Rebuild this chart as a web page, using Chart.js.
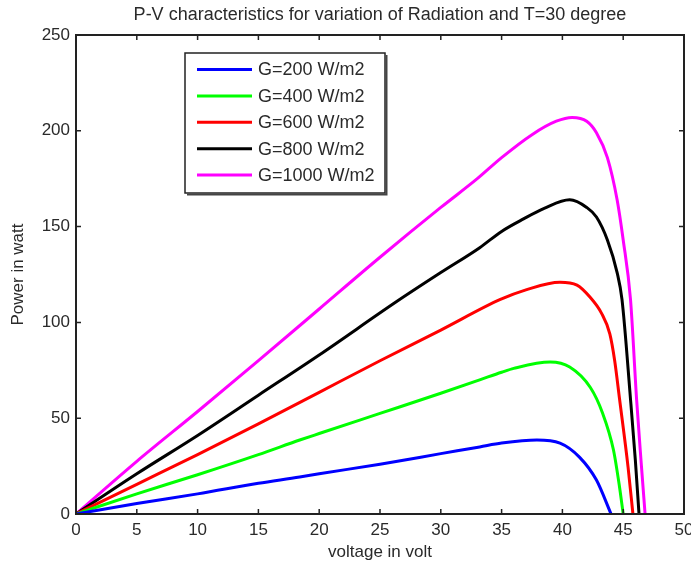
<!DOCTYPE html>
<html>
<head>
<meta charset="utf-8">
<title>P-V characteristics</title>
<script src="https://cdn.jsdelivr.net/npm/chart.js@4/dist/chart.umd.min.js"></script>
<style>
  html, body { margin: 0; padding: 0; background: #ffffff; }
  #wrap { width: 691px; height: 567px; }
</style>
</head>
<body>
<div id="wrap"><canvas id="pv" width="691" height="567"></canvas></div>
<script>
// Panel voltage (V) and output power (W) for each irradiance level, T = 30 degree
const seriesLabels = ['G=200 W/m2', 'G=400 W/m2', 'G=600 W/m2', 'G=800 W/m2', 'G=1000 W/m2'];
const seriesColors = ['#0000ff', '#00ff00', '#ff0000', '#000000', '#ff00ff'];

const voltsG200  = [0, 5, 10, 15, 18.4, 20, 25, 30, 33.2, 35, 37.9, 39.8, 41.4, 42.8, 44.0];
const powerG200  = [0, 5.5, 10.5, 16, 19.3, 21, 26, 31.5, 35, 37, 38.6, 37, 29.7, 17.7, 0];

const voltsG400  = [0, 5, 10, 15, 18.4, 20, 25, 30, 33.2, 35, 36, 39, 40.6, 42.3, 43.3, 44.2, 44.7, 45.0];
const powerG400  = [0, 10.5, 20.5, 31, 38.6, 42, 52.5, 63, 70, 74, 76, 79.3, 76.7, 66, 52.7, 33.4, 14, 0];

const voltsG600  = [0, 5, 10, 15, 20, 25, 30, 34.9, 37, 39.8, 41.2, 42.3, 43.2, 43.9, 44.3, 44.7, 45.4, 45.8];
const powerG600  = [0, 15.5, 31, 47, 63.5, 80, 96, 112, 117, 121, 119.5, 113, 105, 94, 80, 60, 24.5, 0];

const voltsG800  = [0, 5, 10, 15, 20, 26.4, 30, 33.2, 35, 36.8, 38.5, 40.6, 42, 42.8, 43.7, 44.5, 44.9, 45.6, 46.0, 46.3];
const powerG800  = [0, 21, 41, 62, 83, 111, 126, 139, 147.5, 154, 159.5, 164, 160, 155, 143, 126, 112, 60, 28, 0];

const voltsG1000 = [0, 5, 10, 15, 20, 25, 30, 33, 35, 37.5, 39.5, 40.8, 42, 42.8, 43.7, 44.5, 45, 45.6, 46.1, 46.5, 46.8];
const powerG1000 = [0, 27.5, 53.5, 80, 107, 134, 160, 175, 186, 198, 205, 207, 205, 199, 186, 164, 143, 112, 60, 25, 0];

const voltTicks  = [0, 5, 10, 15, 20, 25, 30, 35, 40, 45, 50];
const powerTicks = [0, 50, 100, 150, 200, 250];

const chartTitle = 'P-V characteristics for variation of Radiation and T=30 degree';
const xTitle = 'voltage in volt';
const yTitle = 'Power in watt';

const volts = [voltsG200, voltsG400, voltsG600, voltsG800, voltsG1000];
const powers = [powerG200, powerG400, powerG600, powerG800, powerG1000];

const textColor = '#2a2a2a';
const frameColor = '#222222';
const fontFamily = '"Liberation Sans", Arial, Helvetica, sans-serif';

const datasets = seriesLabels.map((label, i) => ({
  label,
  data: volts[i].map((v, k) => ({ x: v, y: powers[i][k] })),
  borderColor: seriesColors[i],
  backgroundColor: seriesColors[i],
  borderWidth: 3,
  pointRadius: 0,
  fill: false,
  cubicInterpolationMode: 'monotone'
}));

// Box around the axes, inward tick marks, title and legend in the MATLAB style
const matlabFrame = {
  id: 'matlabFrame',
  afterDatasetsDraw(chart) {
    const { ctx, chartArea: a, scales: { x, y } } = chart;
    ctx.save();
    ctx.strokeStyle = frameColor;
    ctx.lineWidth = 2;
    ctx.strokeRect(a.left, a.top, a.right - a.left, a.bottom - a.top);
    ctx.lineWidth = 1.5;
    const len = 5;
    ctx.beginPath();
    voltTicks.forEach(v => {
      const px = x.getPixelForValue(v);
      ctx.moveTo(px, a.bottom); ctx.lineTo(px, a.bottom - len);
      ctx.moveTo(px, a.top); ctx.lineTo(px, a.top + len);
    });
    powerTicks.forEach(p => {
      const py = y.getPixelForValue(p);
      ctx.moveTo(a.left, py); ctx.lineTo(a.left + len, py);
      ctx.moveTo(a.right, py); ctx.lineTo(a.right - len, py);
    });
    ctx.stroke();

    // title
    ctx.fillStyle = textColor;
    ctx.font = '18px ' + fontFamily;
    ctx.textAlign = 'center';
    ctx.textBaseline = 'middle';
    ctx.fillText(chartTitle, (a.left + a.right) / 2, 15);
    ctx.restore();
  },
  afterDraw(chart) {
    const { ctx } = chart;
    const box = { left: 185, top: 53, right: 385, bottom: 193 };
    ctx.save();
    ctx.fillStyle = '#ffffff';
    ctx.fillRect(box.left, box.top, box.right - box.left, box.bottom - box.top);
    ctx.strokeStyle = frameColor;
    ctx.lineWidth = 1.5;
    ctx.strokeRect(box.left, box.top, box.right - box.left, box.bottom - box.top);
    // shadow edge on right and bottom
    ctx.strokeStyle = '#444444';
    ctx.lineWidth = 2;
    ctx.beginPath();
    ctx.moveTo(box.right + 1.5, box.top + 2);
    ctx.lineTo(box.right + 1.5, box.bottom + 1.5);
    ctx.lineTo(box.left + 2, box.bottom + 1.5);
    ctx.stroke();

    ctx.font = '18px ' + fontFamily;
    ctx.textAlign = 'left';
    ctx.textBaseline = 'middle';
    const rowStart = 69.5, rowGap = 26.4;
    chart.data.datasets.forEach((ds, i) => {
      const ry = rowStart + i * rowGap;
      ctx.strokeStyle = ds.borderColor;
      ctx.lineWidth = 3;
      ctx.beginPath();
      ctx.moveTo(197, ry);
      ctx.lineTo(252, ry);
      ctx.stroke();
      ctx.fillStyle = textColor;
      ctx.fillText(ds.label, 258, ry + 1);
    });
    ctx.restore();
  }
};

new Chart(document.getElementById('pv'), {
  type: 'line',
  data: { datasets },
  plugins: [matlabFrame],
  options: {
    responsive: false,
    animation: false,
    events: [],
    layout: { padding: { top: 35, right: 7, left: 0, bottom: 0 } },
    plugins: {
      legend: { display: false },
      title: { display: false },
      tooltip: { enabled: false }
    },
    scales: {
      x: {
        type: 'linear',
        min: 0,
        max: 50,
        afterBuildTicks(scale) { scale.ticks = voltTicks.map(v => ({ value: v })); },
        afterFit(scale) { scale.height = 53; scale.paddingLeft = 0; scale.paddingRight = 0; },
        ticks: { color: textColor, font: { family: fontFamily, size: 17 }, padding: 6, maxRotation: 0, autoSkip: false },
        grid: { display: false, drawTicks: false },
        border: { display: false },
        title: { display: true, text: xTitle, color: textColor, font: { family: fontFamily, size: 17 }, padding: { top: 0, bottom: 4 } }
      },
      y: {
        type: 'linear',
        min: 0,
        max: 250,
        afterBuildTicks(scale) { scale.ticks = powerTicks.map(v => ({ value: v })); },
        afterFit(scale) { scale.width = 76; scale.paddingTop = 0; scale.paddingBottom = 0; },
        ticks: { color: textColor, font: { family: fontFamily, size: 17 }, padding: 6, autoSkip: false },
        grid: { display: false, drawTicks: false },
        border: { display: false },
        title: { display: true, text: yTitle, color: textColor, font: { family: fontFamily, size: 17 }, padding: { top: 8, bottom: 0 } }
      }
    }
  }
});
</script>
</body>
</html>
